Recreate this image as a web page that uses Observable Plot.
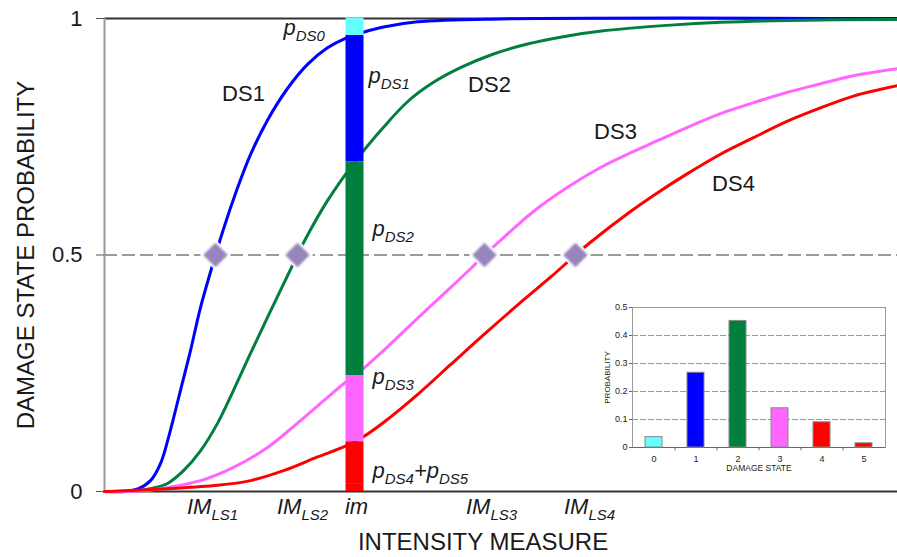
<!DOCTYPE html>
<html><head><meta charset="utf-8">
<script src="https://cdn.jsdelivr.net/npm/d3@7"></script>
<script src="https://cdn.jsdelivr.net/npm/@observablehq/plot@0.6"></script>
<style>
body{margin:0;background:#fff;}
#wrap{position:relative;width:897px;height:557px;}
#wrap svg{position:absolute;overflow:visible;}
</style></head><body><div id="wrap"></div>
<script>
// ---- fragility curves (intensity in arbitrary units, probability of reaching/exceeding DS) ----
const curveNames = ["DS1", "DS2", "DS3", "DS4"];
const curveColors = ["#0000ff", "#007f3f", "#ff66ff", "#ff0000"];
const ds1Points = [[0,0],[21,0],[34,0.006],[46,0.023],[56,0.059],[64,0.114],[76,0.214],[86,0.298],[96,0.389],[111,0.5],[116,0.535],[129,0.618],[146,0.712],[163,0.785],[183,0.852],[203,0.903],[223,0.938],[241,0.958],[259,0.971],[279,0.982],[313,0.993],[396,0.999],[793,1]];
const ds2Points = [[0,0],[36,0.002],[46,0.006],[63,0.017],[79,0.044],[96,0.086],[113,0.144],[129,0.214],[146,0.292],[163,0.368],[193,0.5],[199,0.526],[223,0.615],[250,0.696],[279,0.770],[303,0.824],[329,0.865],[356,0.896],[389,0.925],[423,0.946],[463,0.963],[499,0.974],[566,0.986],[616,0.992],[683,0.996],[793,0.998]];
const ds3Points = [[0,0],[36,0.001],[56,0.006],[96,0.023],[129,0.051],[163,0.093],[196,0.150],[223,0.199],[241,0.231],[259,0.260],[279,0.298],[313,0.366],[346,0.431],[366,0.471],[380,0.5],[396,0.531],[429,0.592],[463,0.643],[496,0.685],[526,0.716],[549,0.738],[583,0.770],[616,0.799],[649,0.822],[683,0.844],[716,0.862],[749,0.879],[793,0.894]];
const ds4Points = [[0,0],[63,0.006],[113,0.013],[146,0.023],[179,0.044],[213,0.073],[241,0.096],[259,0.116],[279,0.146],[313,0.205],[346,0.268],[379,0.331],[413,0.394],[446,0.453],[471,0.5],[486,0.527],[526,0.592],[549,0.626],[583,0.672],[616,0.713],[649,0.748],[683,0.783],[716,0.811],[749,0.836],[793,0.858]];

// ---- limit-state medians (p = 0.5) and the chosen intensity ----
const medianIM = [111, 193, 380, 471];
const imValue = 250;
const halfProb = 0.5;

// ---- damage state probabilities at im (inset) ----
const damageStates = [0, 1, 2, 3, 4, 5];
const stateProbs = [0.037, 0.267, 0.452, 0.14, 0.09, 0.015];
const stateColors = ["#66ffff", "#0000ff", "#007f3f", "#ff66ff", "#ff0000", "#ff0000"];

// ---- ticks and labels ----
const yTicks = [0, 0.5, 1];
const yTickLabels = ["0", "0.5", "1"];
const insetYTicks = [0, 0.1, 0.2, 0.3, 0.4, 0.5];
const insetYTickLabels = ["0", "0.1", "0.2", "0.3", "0.4", "0.5"];
const imTickTexts = ["IM_{LS1}", "IM_{LS2}", "im", "IM_{LS3}", "IM_{LS4}"];
const imTickAt = [108, 198, 252, 387, 485];
const curveLabelTexts = ["DS1", "DS2", "DS3", "DS4"];
const curveLabelX = [139, 385, 511, 629];
const curveLabelY = [0.841, 0.860, 0.761, 0.651];
const probLabelTexts = ["p_{DS0}", "p_{DS1}", "p_{DS2}", "p_{DS3}", "p_{DS4}+p_{DS5}"];
const probLabelX = [179, 264, 268, 268, 268];
const probLabelY = [0.979, 0.879, 0.556, 0.243, 0.044];

// ---- tables for Plot ----
const curveRows = [ds1Points, ds2Points, ds3Points, ds4Points].flatMap((pts, i) =>
  pts.map(([x, p]) => ({ds: curveNames[i], x, p, color: curveColors[i]})));
const stackRows = damageStates.map((s, i) => ({state: s, p: stateProbs[i], color: stateColors[i], im: imValue}));
const medianRows = medianIM.map(x => ({x, p: halfProb}));
const imTickRows = imTickTexts.map((t, i) => ({text: t, x: imTickAt[i]}));
const curveLabelRows = curveLabelTexts.map((t, i) => ({text: t, x: curveLabelX[i], y: curveLabelY[i]}));
const probLabelRows = probLabelTexts.map((t, i) => ({text: t, x: probLabelX[i], y: probLabelY[i]}));

const FONT = '"Liberation Sans", Arial, sans-serif';
const INK = "#1a1a1a";

const main = Plot.plot({
  width: 897, height: 557,
  marginTop: 18, marginBottom: 66, marginLeft: 104, marginRight: 0,
  x: {domain: [0, 793], axis: null},
  y: {domain: [0, 1], axis: null},
  color: {type: "identity"},
  style: {fontFamily: FONT, fontSize: "22px", color: INK, background: "transparent"},
  marks: [
    Plot.ruleY([halfProb], {stroke: "#9a9a9a", strokeWidth: 2, strokeDasharray: "13,5"}),
    Plot.ruleY([1], {stroke: "#333", strokeWidth: 2}),
    Plot.ruleY([0], {stroke: "#333", strokeWidth: 2}),
    Plot.ruleX([0], {stroke: "#999", strokeWidth: 2}),
    Plot.axisY({ticks: yTicks, tickFormat: d => yTickLabels[yTicks.indexOf(d)], tickSize: 8, tickPadding: 14, fontSize: 22, stroke: "#555", fill: INK, label: null}),
    Plot.line(curveRows, {x: "x", y: "p", z: "ds", stroke: "color", strokeWidth: 3, curve: "catmull-rom"}),
    Plot.ruleX(stackRows, Plot.stackY({x: "im", y: "p", stroke: "color", strokeWidth: 18, reverse: true})),
    Plot.dot(medianRows, {x: "x", y: "p", symbol: "diamond2", r: 14, fill: "white", stroke: "none"}),
    Plot.dot(medianRows, {x: "x", y: "p", symbol: "diamond2", r: 11, fill: "#9684bb", stroke: "none", ariaDescription: "diamond"}),
    Plot.text(curveLabelRows, {x: "x", y: "y", text: "text", fontSize: 22, fill: INK}),
    Plot.text(probLabelRows, {x: "x", y: "y", text: "text", textAnchor: "start", fontSize: 22, fontStyle: "italic", fill: INK, ariaDescription: "subscripted"}),
    Plot.text(imTickRows, {x: "x", y: 0, text: "text", dy: 15, fontSize: 22, fontStyle: "italic", fill: INK, ariaDescription: "subscripted"}),
    Plot.text(["DAMAGE STATE PROBABILITY"], {frameAnchor: "left", textAnchor: "middle", lineAnchor: "middle", rotate: -90, dx: -78, fontSize: 24, fill: INK}),
    Plot.text(["INTENSITY MEASURE"], {frameAnchor: "bottom", textAnchor: "middle", lineAnchor: "middle", dy: 51, dx: -18, fontSize: 24, fill: INK})
  ]
});

function applySubscripts(svg, subSize, shift) {
  svg.querySelectorAll('g[aria-description="subscripted"] text').forEach(t => {
    const s = t.textContent;
    if (!s.includes("_{")) return;
    const parts = s.split(/_\{([^}]*)\}/);
    while (t.firstChild) t.removeChild(t.firstChild);
    let lowered = false;
    parts.forEach((part, i) => {
      if (part === "") return;
      const ts = document.createElementNS("http://www.w3.org/2000/svg", "tspan");
      ts.textContent = part;
      if (i % 2 === 1) {
        ts.setAttribute("font-size", subSize);
        if (!lowered) { ts.setAttribute("dy", shift); lowered = true; }
      } else if (lowered) {
        ts.setAttribute("dy", -shift); lowered = false;
      }
      t.appendChild(ts);
    });
  });
}
applySubscripts(main, 15, 6);
main.querySelectorAll('g[aria-description="diamond"] path').forEach(p => p.style.filter = "blur(1px)");

const inset = Plot.plot({
  width: 300, height: 185,
  marginTop: 10, marginBottom: 35, marginLeft: 42, marginRight: 5,
  x: {domain: damageStates, paddingInner: 0.6, paddingOuter: 0.3, axis: null},
  y: {domain: [0, 0.5], axis: null},
  color: {type: "identity"},
  style: {fontFamily: FONT, fontSize: "8px", color: INK, background: "transparent"},
  marks: [
    Plot.ruleY([0.1, 0.2, 0.3, 0.4], {stroke: "#9a9a9a", strokeDasharray: "6,2"}),
    Plot.frame({stroke: "#999"}),
    Plot.ruleY([0], {stroke: "#666"}),
    Plot.barY(stackRows, {x: "state", y: "p", fill: "color", stroke: "#888", strokeWidth: 1}),
    Plot.axisY({ticks: insetYTicks, tickFormat: d => insetYTickLabels[insetYTicks.indexOf(d)], tickSize: 3, tickPadding: 2, fontSize: 9, stroke: "#666", fill: INK, label: null}),
    Plot.axisX({tickSize: 0, tickPadding: 8, fontSize: 9, fill: INK, label: null}),
    Plot.ruleX(damageStates.slice(0, 5), {x: d => d, y1: 0, y2: -0.012, dx: 21, stroke: "#666"}),
    Plot.text(["PROBABILITY"], {frameAnchor: "left", textAnchor: "middle", lineAnchor: "middle", rotate: -90, dx: -25, fontSize: 8, fill: INK}),
    Plot.text(["DAMAGE STATE"], {frameAnchor: "bottom", textAnchor: "middle", lineAnchor: "middle", dy: 21, fontSize: 8.5, fill: INK})
  ]
});

const wrap = document.getElementById("wrap");
main.style.left = "0px"; main.style.top = "0px";
inset.style.left = "590px"; inset.style.top = "297px";
wrap.appendChild(main);
wrap.appendChild(inset);
</script>
</body></html>
